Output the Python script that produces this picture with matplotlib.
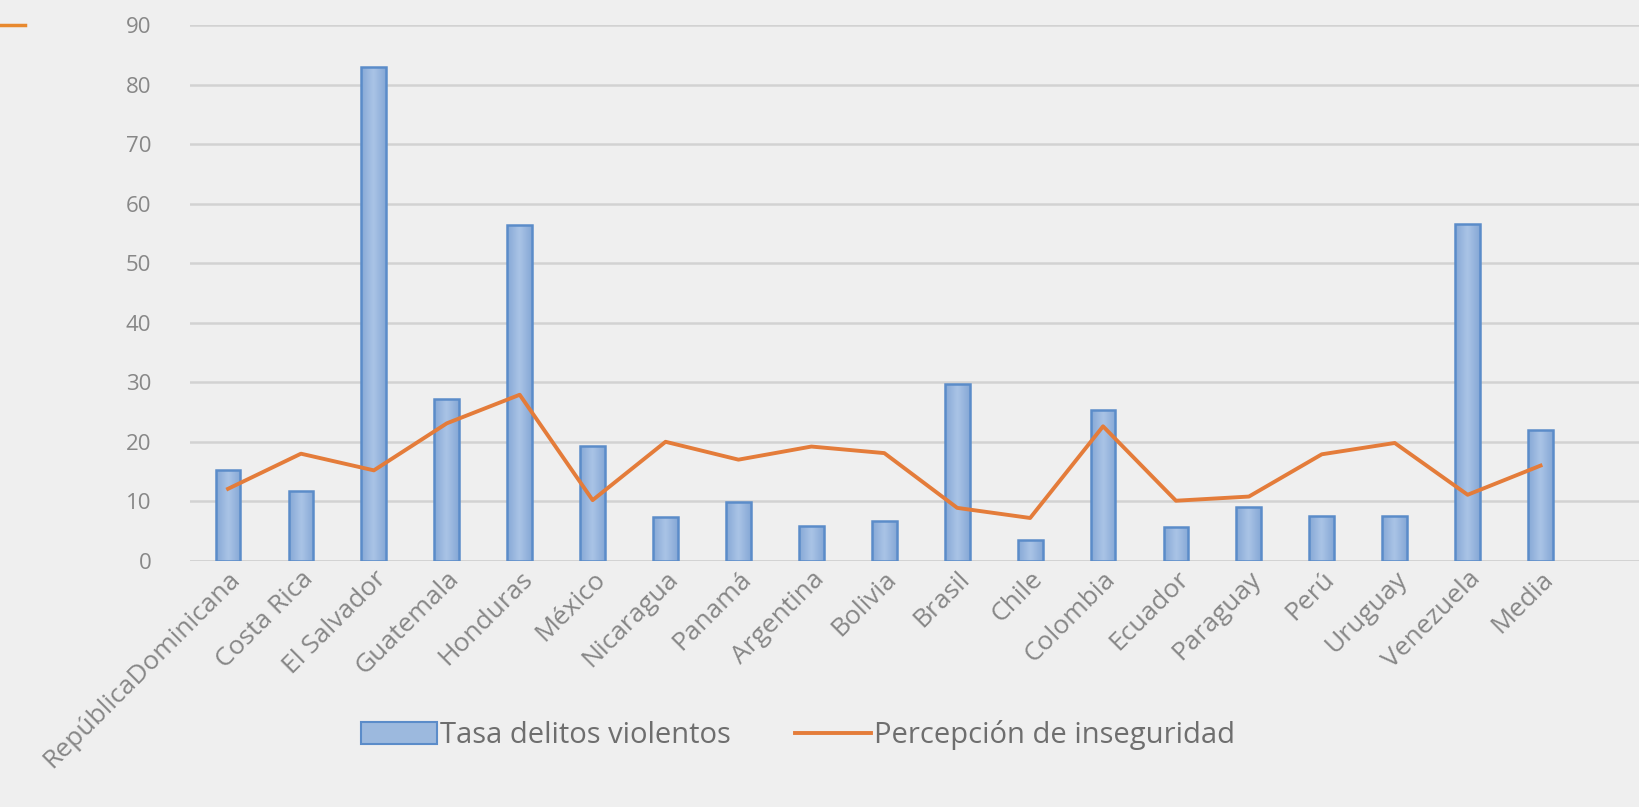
import numpy as np
import matplotlib
matplotlib.use("Agg")
import matplotlib.pyplot as plt
from matplotlib.lines import Line2D
from matplotlib.colors import LinearSegmentedColormap

paises = ["RepúblicaDominicana", "Costa Rica", "El Salvador", "Guatemala", "Honduras",
          "México", "Nicaragua", "Panamá", "Argentina", "Bolivia", "Brasil", "Chile",
          "Colombia", "Ecuador", "Paraguay", "Perú", "Uruguay", "Venezuela", "Media"]
tasa_delitos = [15.2, 11.8, 82.9, 27.2, 56.4, 19.3, 7.3, 9.9, 5.9, 6.7, 29.7, 3.5,
                25.3, 5.7, 9.0, 7.5, 7.5, 56.6, 22.0]
percepcion = [12.1, 18.0, 15.2, 23.1, 27.9, 10.2, 20.0, 17.0, 19.2, 18.1, 8.9, 7.2,
              22.6, 10.1, 10.8, 17.9, 19.8, 11.1, 16.0]
yticks = list(range(0, 91, 10))

BG = "#efefef"
GRAY_TXT = "#878787"
BAR_FACE = "#9cb9de"
BAR_EDGE = "#5b8cc9"
ORANGE = "#e47c3a"

plt.rcParams['font.family'] = ['Open Sans', 'DejaVu Sans']

fig = plt.figure(figsize=(16.39, 8.07), dpi=100, facecolor=BG)
ax = fig.add_axes([0.116, 0.305, 0.884, 0.664])
ax.set_facecolor(BG)

x = np.arange(len(paises))
bars = ax.bar(x, tasa_delitos, width=0.34, color=BAR_FACE, edgecolor=BAR_EDGE,
              linewidth=1.8, zorder=2, label="Tasa delitos violentos")

# soft horizontal gradient inside each bar (darker sides, lighter middle)
grad_cmap = LinearSegmentedColormap.from_list("barg", ["#86a8d6", "#aac4e6", "#86a8d6"])
grad = np.linspace(0, 1, 64).reshape(1, -1)
for b in bars:
    x0, w, h = b.get_x(), b.get_width(), b.get_height()
    im = ax.imshow(grad, cmap=grad_cmap, extent=[x0, x0 + w, 0, h], aspect='auto',
                   zorder=2.1, interpolation='bicubic')
    im.set_clip_path(b)
    b.set_facecolor('none')
    b.set_zorder(2.2)

ax.plot(x, percepcion, color=ORANGE, linewidth=2.8, zorder=3,
        label="Percepción de inseguridad")

ax.set_ylim(0, 90)
ax.set_xlim(-0.52, 19.35)
ax.set_yticks(yticks)
ax.set_yticklabels([str(v) for v in yticks], fontsize=16, color=GRAY_TXT)
ax.tick_params(axis='y', length=0, pad=28)
ax.grid(axis='y', color="#d2d2d2", linewidth=1.8, zorder=0)
ax.set_axisbelow(True)

ax.set_xticks(x)
ax.set_xticklabels(paises, rotation=45, ha='right', va='top', rotation_mode='anchor',
                   fontsize=19, color=GRAY_TXT)
ax.tick_params(axis='x', length=0, pad=4)

for s in ax.spines.values():
    s.set_visible(False)
ax.axhline(0, color="#d2d2d2", linewidth=1.8, zorder=1)

handles = [plt.Rectangle((0, 0), 1, 1, facecolor=BAR_FACE, edgecolor=BAR_EDGE, linewidth=1.5),
           Line2D([0], [0], color=ORANGE, linewidth=2.8)]
fig.legend(handles, ["Tasa delitos violentos", "Percepción de inseguridad"],
           loc='center', bbox_to_anchor=(0.487, 0.089), ncol=2, frameon=False,
           fontsize=21, handlelength=2.6, handleheight=0.8, handletextpad=0.1,
           columnspacing=2.2, labelcolor="#6e6e6e")

# small orange slide mark at top-left
fig.add_artist(Line2D([0, 0.015], [0.969, 0.969], color="#e8892e", linewidth=2.5))

fig.savefig("out.png", dpi=100, facecolor=BG)
